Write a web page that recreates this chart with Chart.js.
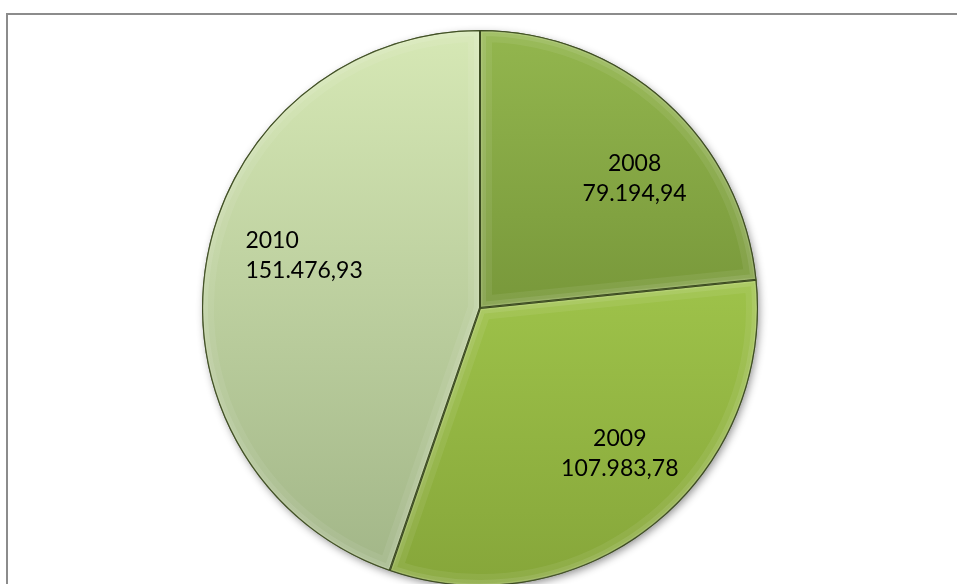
<!DOCTYPE html>
<html>
<head>
<meta charset="utf-8">
<script src="https://cdn.jsdelivr.net/npm/chart.js@4/dist/chart.umd.min.js"></script>
<style>
  html, body { margin: 0; padding: 0; background: #ffffff; }
  #wrap { position: relative; width: 957px; height: 584px; overflow: hidden; background: #ffffff; }
  #frame { position: absolute; left: 6px; top: 13px; width: 980px; height: 620px;
           border-left: 2px solid #8c8c8c; border-top: 2px solid #8c8c8c; box-sizing: border-box; }
  #box { position: absolute; left: 0; top: 0; width: 957px; height: 620px; }
</style>
</head>
<body>
<div id="wrap">
  <div id="frame"></div>
  <div id="box"><canvas id="pie" width="957" height="620"></canvas></div>
</div>
<script>
// Yearly totals
const years = ['2008', '2009', '2010'];
const totals = [79194.94, 107983.78, 151476.93];
const valueLabels = ['79.194,94', '107.983,78', '151.476,93'];

// Slice shading: top and bottom colours of each vertical gradient
const topColors = ['#93b64e', '#b2da57', '#d6e8b5'];
const bottomColors = ['#5d7a27', '#86a63a', '#a1b587'];
// Label placement tweaks: angular nudge (degrees), radius share and text alignment
const labelNudge = [8, -5.5, 7];
const labelRadius = [0.725, 0.725, 0.66];
const labelAlign = ['center', 'center', 'left'];

function sliceFill(ctx) {
  const chart = ctx.chart;
  const area = chart.chartArea;
  if (!area) return topColors[ctx.dataIndex];
  const g = chart.ctx.createLinearGradient(0, area.top, 0, area.bottom);
  g.addColorStop(0, topColors[ctx.dataIndex]);
  g.addColorStop(1, bottomColors[ctx.dataIndex]);
  return g;
}

// Soft drop shadow behind the whole pie
const shadowPlugin = {
  id: 'pieShadow',
  beforeDatasetsDraw(chart) {
    const arc = chart.getDatasetMeta(0).data[0];
    if (!arc) return;
    const { x, y, outerRadius } = arc.getProps(['x', 'y', 'outerRadius'], true);
    const c = chart.ctx;
    c.save();
    c.shadowColor = 'rgba(0,0,0,0.45)';
    c.shadowBlur = 8;
    c.shadowOffsetX = 2;
    c.shadowOffsetY = 3;
    c.fillStyle = '#9bb060';
    c.beginPath();
    c.arc(x, y, outerRadius - 1, 0, Math.PI * 2);
    c.fill();
    c.restore();
  }
};

// Bevelled rim on each slice plus the two-line labels
const bevelPlugin = {
  id: 'bevelLabels',
  afterDatasetsDraw(chart) {
    const c = chart.ctx;
    const meta = chart.getDatasetMeta(0);
    meta.data.forEach((arc) => {
      const p = arc.getProps(['x', 'y', 'startAngle', 'endAngle', 'outerRadius'], true);
      const path = () => {
        c.beginPath();
        c.moveTo(p.x, p.y);
        c.arc(p.x, p.y, p.outerRadius, p.startAngle, p.endAngle);
        c.closePath();
      };
      c.save();
      path();
      c.clip();
      c.lineJoin = 'miter';
      c.strokeStyle = 'rgba(255,255,255,0.07)';
      c.lineWidth = 24;
      path();
      c.stroke();
      c.strokeStyle = 'rgba(255,255,255,0.09)';
      c.lineWidth = 12;
      c.stroke();
      c.strokeStyle = 'rgba(255,255,230,0.12)';
      c.lineWidth = 5;
      c.stroke();
      // dark seam along the slice edges
      c.strokeStyle = 'rgba(40,55,15,0.75)';
      c.lineWidth = 2;
      c.stroke();
      c.restore();
    });

    c.save();
    c.fillStyle = '#000000';
    c.font = '23px Lato, "Open Sans", sans-serif';
    c.textBaseline = 'middle';
    meta.data.forEach((arc, i) => {
      const p = arc.getProps(['x', 'y', 'startAngle', 'endAngle', 'outerRadius'], true);
      const mid = (p.startAngle + p.endAngle) / 2 + labelNudge[i] * Math.PI / 180;
      const r = p.outerRadius * labelRadius[i];
      let lx = p.x + Math.cos(mid) * r;
      const ly = p.y + Math.sin(mid) * r;
      if (labelAlign[i] === 'left') {
        const w = Math.max(c.measureText(years[i]).width, c.measureText(valueLabels[i]).width);
        lx -= w / 2;
      }
      c.textAlign = labelAlign[i];
      c.fillText(years[i], lx, ly - 15);
      c.fillText(valueLabels[i], lx, ly + 15);
    });
    c.restore();
  }
};

new Chart(document.getElementById('pie'), {
  type: 'pie',
  data: {
    labels: years,
    datasets: [{
      data: totals,
      backgroundColor: sliceFill,
      borderColor: 'rgba(55,75,20,0.85)',
      borderWidth: 1,
      borderAlign: 'inner'
    }]
  },
  options: {
    responsive: false,
    animation: false,
    layout: { padding: { top: 30, bottom: 34, left: 3, right: 0 } },
    plugins: {
      legend: { display: false },
      tooltip: { enabled: false }
    }
  },
  plugins: [shadowPlugin, bevelPlugin]
});
</script>
</body>
</html>
